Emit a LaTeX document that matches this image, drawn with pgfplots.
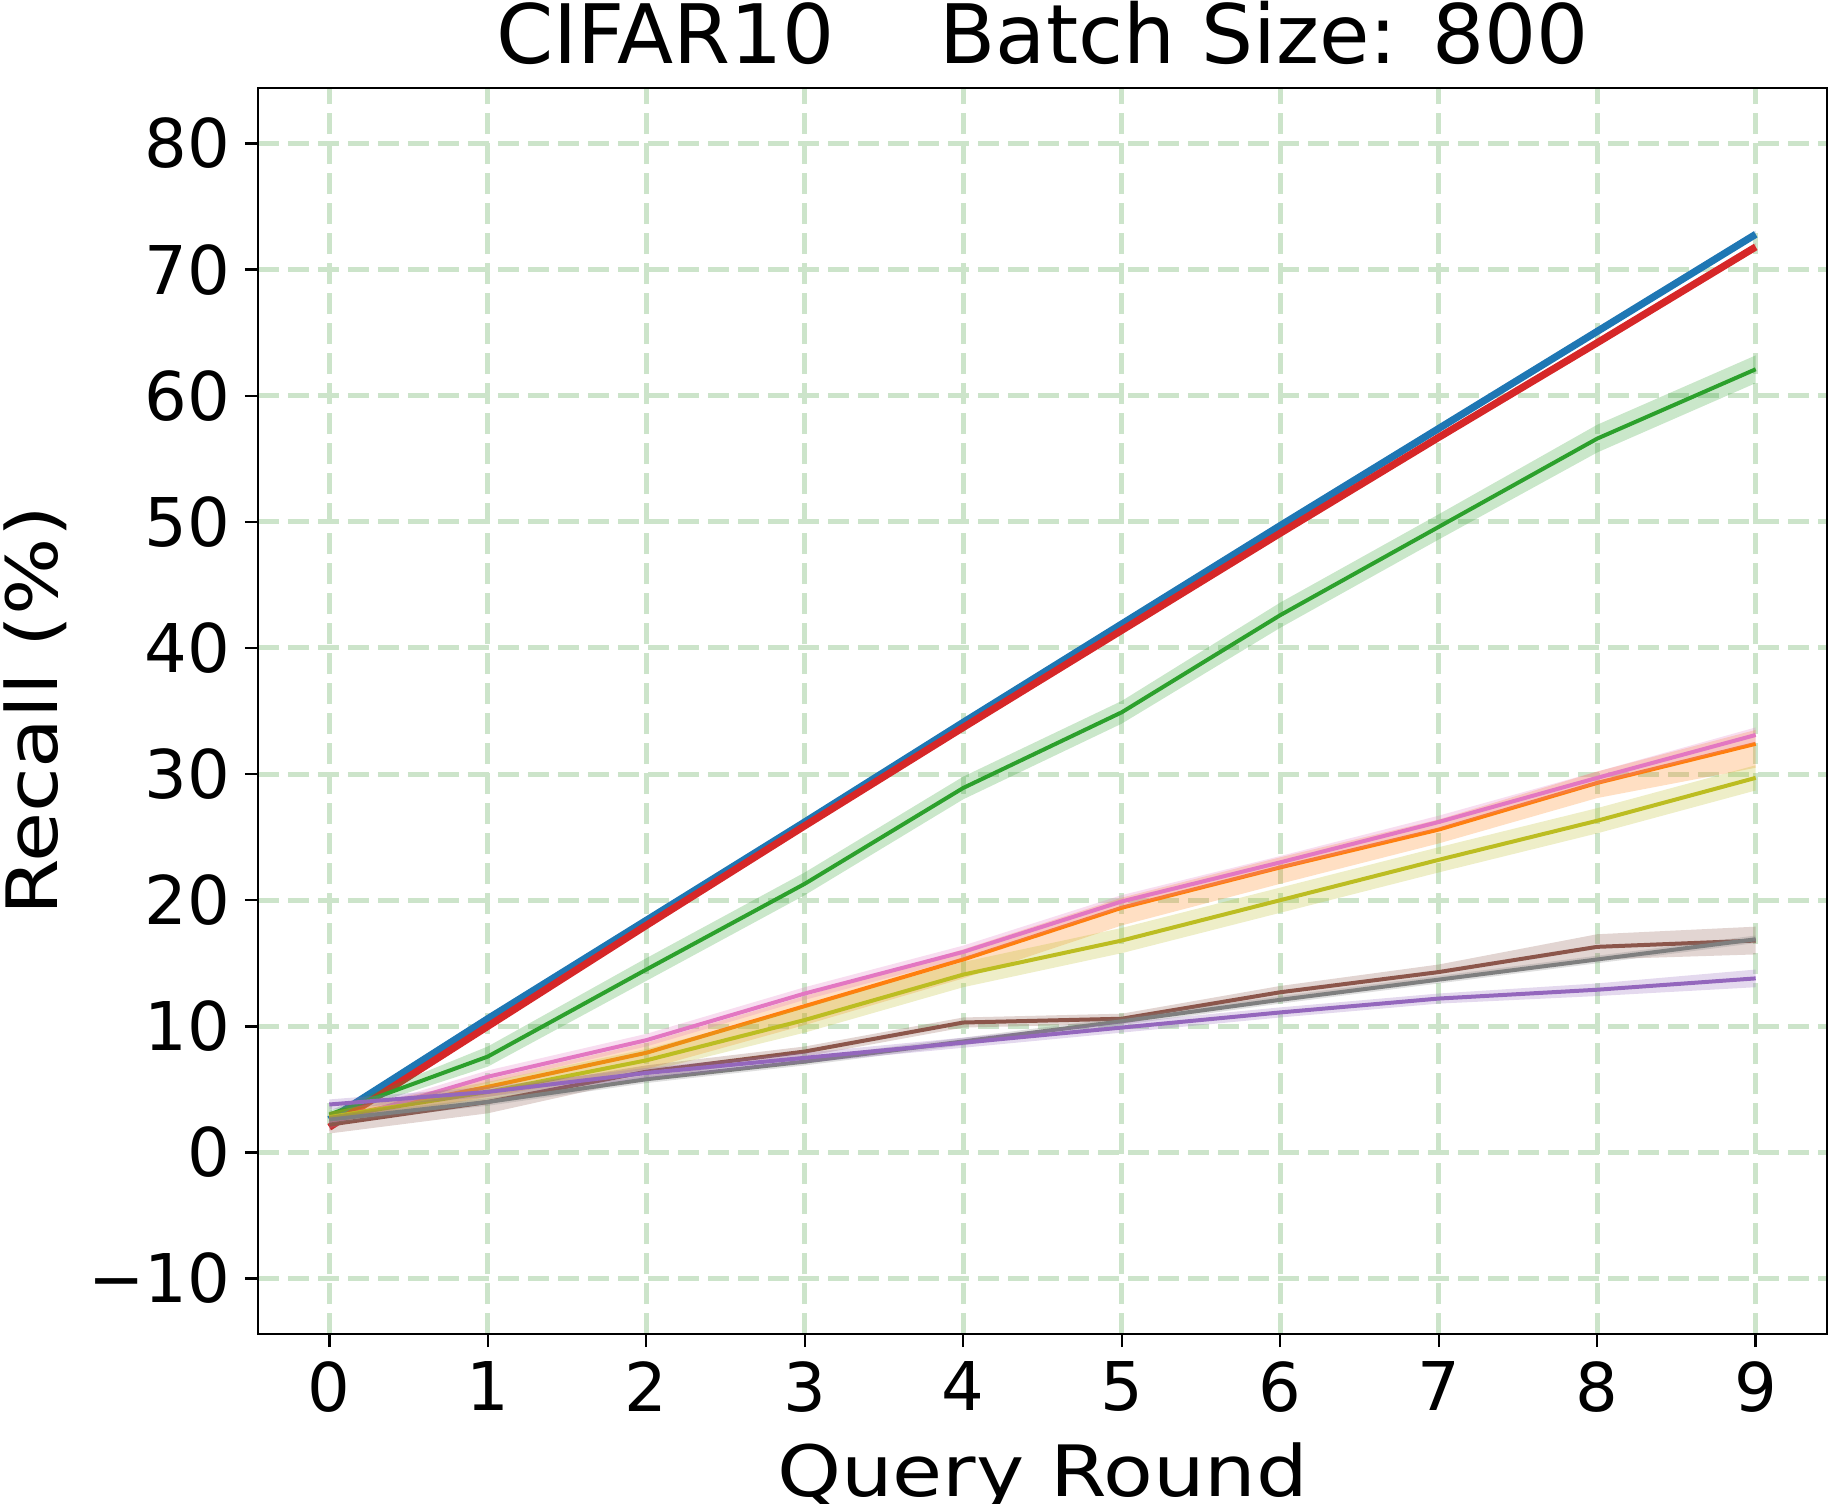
\documentclass[border=0pt]{standalone}
\usepackage{fontspec}
\setmainfont{DejaVu Sans}
\newfontfamily\labelfont{DejaVu Sans}[FakeStretch=1.15]
\usepackage{pgfplots}
\pgfplotsset{compat=1.18}
\definecolor{tblue}{HTML}{1F77B4}
\definecolor{torange}{HTML}{FF7F0E}
\definecolor{tgreen}{HTML}{2CA02C}
\definecolor{tred}{HTML}{D62728}
\definecolor{tpurple}{HTML}{9467BD}
\definecolor{tbrown}{HTML}{8C564B}
\definecolor{tpink}{HTML}{E377C2}
\definecolor{tgray}{HTML}{7F7F7F}
\definecolor{tolive}{HTML}{BCBD22}
\definecolor{gridgreen}{RGB}{204,228,202}
\begin{document}
\begin{tikzpicture}
\begin{axis}[
  at={(0,0)}, anchor=south west,
  scale only axis, width=392.25pt, height=311.5pt,
  xmin=-0.45, xmax=9.45, ymin=-14.4, ymax=84.4,
  xtick={0,1,2,3,4,5,6,7,8,9},
  ytick={-10,0,10,20,30,40,50,60,70,80},
  yticklabels={−10,0,10,20,30,40,50,60,70,80},
  /pgf/number format/assume math mode=true,
  grid=major,
  major grid style={color=gridgreen, line width=1.25pt, dash pattern=on 5.2pt off 2.3pt},
  axis line style={line width=0.6pt, black},
  tick align=outside, major tick length=3.25pt,
  tick style={line width=0.6pt, black},
  xtick pos=left, ytick pos=left,
  ticklabel style={font=\fontsize{16.8}{20}\selectfont},
  yticklabel style={inner sep=3.5pt},
  xticklabel style={inner sep=3.5pt},
  title={CIFAR10\hspace{1.28em}Batch Size: 800},
  title style={font=\fontsize{20.5}{24}\selectfont, at={(axis description cs:0.5,1.0008)}, anchor=base, inner sep=0pt},
  xlabel={Query Round},
  ylabel={Recall (\%)},
  label style={font=\labelfont\fontsize{17.7}{21}\selectfont},
  xlabel style={at={(axis description cs:0.5,-0.1308)}, anchor=base, inner sep=0pt},
  ylabel style={at={(axis description cs:-0.1281,0.5)}, anchor=base, inner sep=0pt},
]
% blue band + line
\addplot[draw=none, fill=tblue, fill opacity=0.25] coordinates {
(0,2.9)(1,10.9)(2,18.7)(3,26.5)(4,34.4)(5,42.2)(6,50.0)(7,57.7)(8,65.4)(9,73.1)
(9,72.5)(8,64.8)(7,57.1)(6,49.4)(5,41.6)(4,33.8)(3,25.9)(2,18.1)(1,10.3)(0,2.3)};
\addplot[tblue, line width=1.8pt] coordinates {
(0,2.6)(1,10.6)(2,18.4)(3,26.2)(4,34.1)(5,41.9)(6,49.7)(7,57.4)(8,65.1)(9,72.8)};
% red
\addplot[draw=none, fill=tred, fill opacity=0.25] coordinates {
(0,2.3)(1,10.3)(2,18.3)(3,26.2)(4,34.0)(5,41.7)(6,49.4)(7,57.0)(8,64.5)(9,72.1)
(9,71.5)(8,63.9)(7,56.4)(6,48.8)(5,41.1)(4,33.4)(3,25.6)(2,17.7)(1,9.7)(0,1.7)};
\addplot[tred, line width=1.8pt] coordinates {
(0,2.0)(1,10.0)(2,18.0)(3,25.9)(4,33.7)(5,41.4)(6,49.1)(7,56.7)(8,64.2)(9,71.8)};
% green
\addplot[draw=none, fill=tgreen, fill opacity=0.25] coordinates {
(0,3.3)(1,8.4)(2,15.4)(3,22.2)(4,29.8)(5,35.8)(6,43.6)(7,50.6)(8,57.7)(9,63.2)
(9,61.0)(8,55.5)(7,48.6)(6,41.6)(5,34.0)(4,28.0)(3,20.4)(2,13.6)(1,6.8)(0,2.7)};
\addplot[tgreen, line width=1.0pt] coordinates {
(0,3.0)(1,7.6)(2,14.5)(3,21.3)(4,28.9)(5,34.9)(6,42.6)(7,49.6)(8,56.6)(9,62.1)};
% orange
\addplot[draw=none, fill=torange, fill opacity=0.25] coordinates {
(0,3.2)(1,5.8)(2,8.7)(3,12.4)(4,16.1)(5,20.2)(6,23.4)(7,26.4)(8,30.2)(9,33.5)
(9,30.5)(8,28.1)(7,24.5)(6,21.3)(5,18.0)(4,13.8)(3,10.1)(2,6.6)(1,4.4)(0,2.2)};
\addplot[torange, line width=1.0pt] coordinates {
(0,2.7)(1,5.2)(2,7.9)(3,11.6)(4,15.3)(5,19.4)(6,22.6)(7,25.6)(8,29.3)(9,32.4)};
% pink
\addplot[draw=none, fill=tpink, fill opacity=0.25] coordinates {
(0,2.7)(1,6.5)(2,9.4)(3,13.1)(4,16.4)(5,20.4)(6,23.5)(7,26.7)(8,30.2)(9,33.7)
(9,32.5)(8,29.2)(7,25.7)(6,22.5)(5,19.4)(4,15.4)(3,12.1)(2,8.4)(1,5.5)(0,1.9)};
\addplot[tpink, line width=1.0pt] coordinates {
(0,2.3)(1,6.0)(2,8.9)(3,12.6)(4,15.9)(5,19.9)(6,23.0)(7,26.2)(8,29.7)(9,33.1)};
% olive
\addplot[draw=none, fill=tolive, fill opacity=0.25] coordinates {
(0,3.2)(1,5.6)(2,8.2)(3,11.5)(4,15.1)(5,17.8)(6,21.0)(7,24.2)(8,27.3)(9,30.7)
(9,28.7)(8,25.3)(7,22.2)(6,19.0)(5,15.8)(4,13.1)(3,9.5)(2,6.4)(1,4.0)(0,2.4)};
\addplot[tolive, line width=1.0pt] coordinates {
(0,2.8)(1,4.8)(2,7.3)(3,10.5)(4,14.1)(5,16.8)(6,20.0)(7,23.2)(8,26.3)(9,29.7)};
% brown
\addplot[draw=none, fill=tbrown, fill opacity=0.25] coordinates {
(0,2.9)(1,4.9)(2,6.9)(3,8.4)(4,10.7)(5,11.0)(6,13.2)(7,14.9)(8,17.3)(9,17.9)
(9,15.7)(8,15.3)(7,13.7)(6,12.2)(5,10.2)(4,9.9)(3,7.6)(2,5.9)(1,3.1)(0,1.5)};
\addplot[tbrown, line width=1.0pt] coordinates {
(0,2.2)(1,4.0)(2,6.4)(3,8.0)(4,10.3)(5,10.6)(6,12.7)(7,14.3)(8,16.3)(9,16.8)};
% gray
\addplot[draw=none, fill=tgray, fill opacity=0.25] coordinates {
(0,2.9)(1,4.3)(2,6.1)(3,7.5)(4,9.1)(5,10.7)(6,12.4)(7,14.0)(8,15.6)(9,17.2)
(9,16.6)(8,15.0)(7,13.4)(6,11.8)(5,10.1)(4,8.5)(3,6.9)(2,5.5)(1,3.7)(0,2.3)};
\addplot[tgray, line width=1.0pt] coordinates {
(0,2.6)(1,4.0)(2,5.8)(3,7.2)(4,8.8)(5,10.4)(6,12.1)(7,13.7)(8,15.3)(9,16.9)};
% purple
\addplot[draw=none, fill=tpurple, fill opacity=0.25] coordinates {
(0,4.2)(1,5.2)(2,6.7)(3,7.9)(4,9.1)(5,10.3)(6,11.5)(7,12.6)(8,13.4)(9,14.5)
(9,13.1)(8,12.4)(7,11.8)(6,10.7)(5,9.5)(4,8.3)(3,7.1)(2,5.9)(1,4.4)(0,3.4)};
\addplot[tpurple, line width=1.0pt] coordinates {
(0,3.8)(1,4.8)(2,6.3)(3,7.5)(4,8.7)(5,9.9)(6,11.1)(7,12.2)(8,12.9)(9,13.8)};
\end{axis}
\pgfresetboundingbox
\path[use as bounding box] (-64.5pt,-42.25pt) rectangle (395.5pt,333.5pt);
\end{tikzpicture}
\end{document}
